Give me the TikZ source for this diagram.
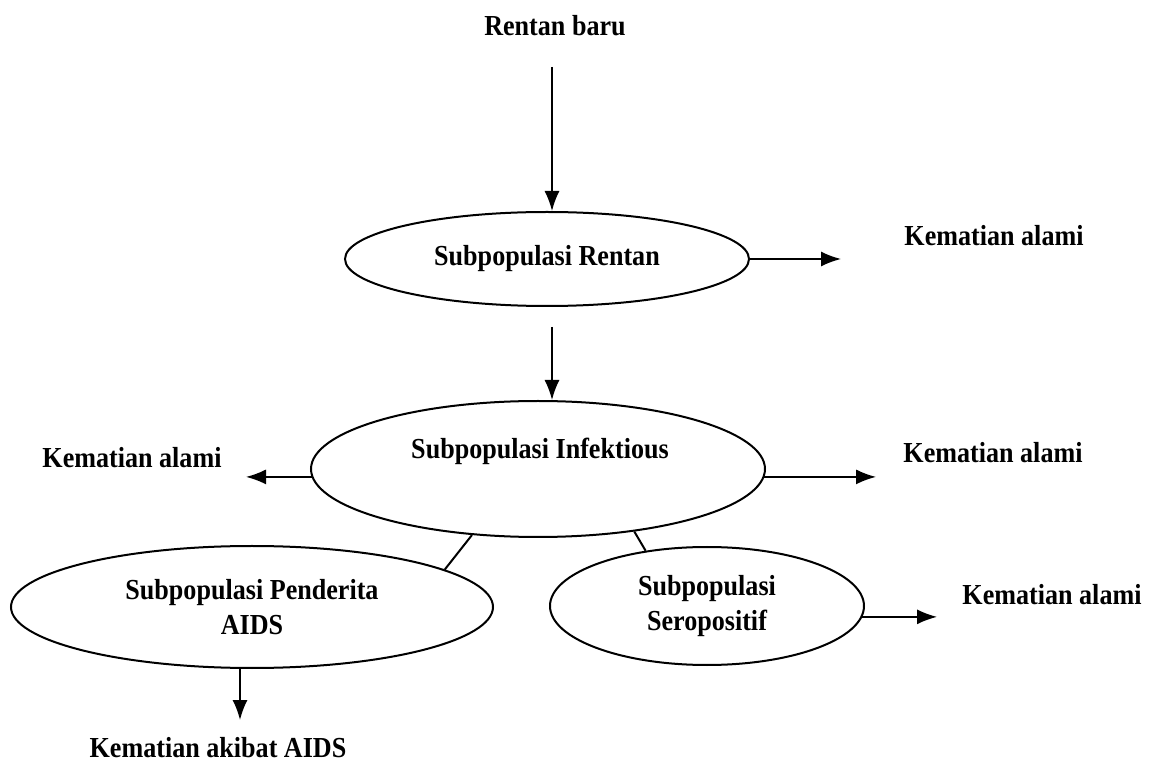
\documentclass[tikz,border=0pt]{standalone}
\usepackage{fontspec}
\setmainfont{Liberation Serif}[FakeStretch=0.9]
\usetikzlibrary{shapes.geometric,arrows.meta}

\begin{document}
\begin{tikzpicture}[x=0.5pt,y=-0.5pt,
    font=\fontsize{14.5}{17.5}\selectfont\bfseries,
    pop/.style={draw, line width=1pt, ellipse, inner sep=0pt, align=center},
    lbl/.style={inner sep=0pt, align=center},
    arr/.style={-{Latex[length=10pt,width=7.5pt]}, line width=0.8pt}]
    \useasboundingbox[fill=white] (0,0) rectangle (1152,764);

    % the four subpopulations
    \node[pop, minimum width=202pt, minimum height=47pt] (ren) at (547,259) {Subpopulasi Rentan};
    \node[pop, minimum width=227pt, minimum height=68pt] (inf) at (538,469) {};
    \node[lbl] (inftxt) at (540,451) {Subpopulasi Infektious};
    \node[pop, minimum width=241pt, minimum height=61pt] (pen) at (252,607) {Subpopulasi Penderita\\AIDS};
    \node[pop, minimum width=157pt, minimum height=59pt] (sero) at (707,606) {Subpopulasi\\Seropositif};

    % labels
    \node[lbl] (baru) at (555,26) {Rentan baru};
    \node[lbl] (mati1) at (994,236) {Kematian alami};
    \node[lbl] (mati2) at (132,458) {Kematian alami};
    \node[lbl] (mati3) at (993,453) {Kematian alami};
    \node[lbl] (mati4) at (1052,595) {Kematian alami};
    \node[lbl] (aids) at (218,748) {Kematian akibat AIDS};

    % free ends of the arrows
    \coordinate (top) at (552,67);
    \coordinate (e1) at (841,261);
    \coordinate (e2) at (246,477);
    \coordinate (e3) at (876,477);
    \coordinate (e4) at (937,617);
    \coordinate (e5) at (240,720);

    \draw[arr] (top) -- (top |- ren.north);
    \draw[arr, shorten <=10pt] (top |- ren.south) -- (top |- inf.north);
    \draw[arr] (ren.east) -- (ren.east -| e1);
    \draw[arr] (inf.182) -- (inf.182 -| e2);
    \draw[arr] (inf.-2) -- (inf.-2 -| e3);
    \draw[arr] (sero.-4) -- (sero.-4 -| e4);
    \draw[arr] (e5 |- pen.south) -- (e5);

    % links to the two lower groups
    \draw[line width=1pt] (inf.225) -- (pen.11);
    \draw[line width=1pt] (inf.-33.5) -- (sero.138.5);
\end{tikzpicture}
\end{document}
